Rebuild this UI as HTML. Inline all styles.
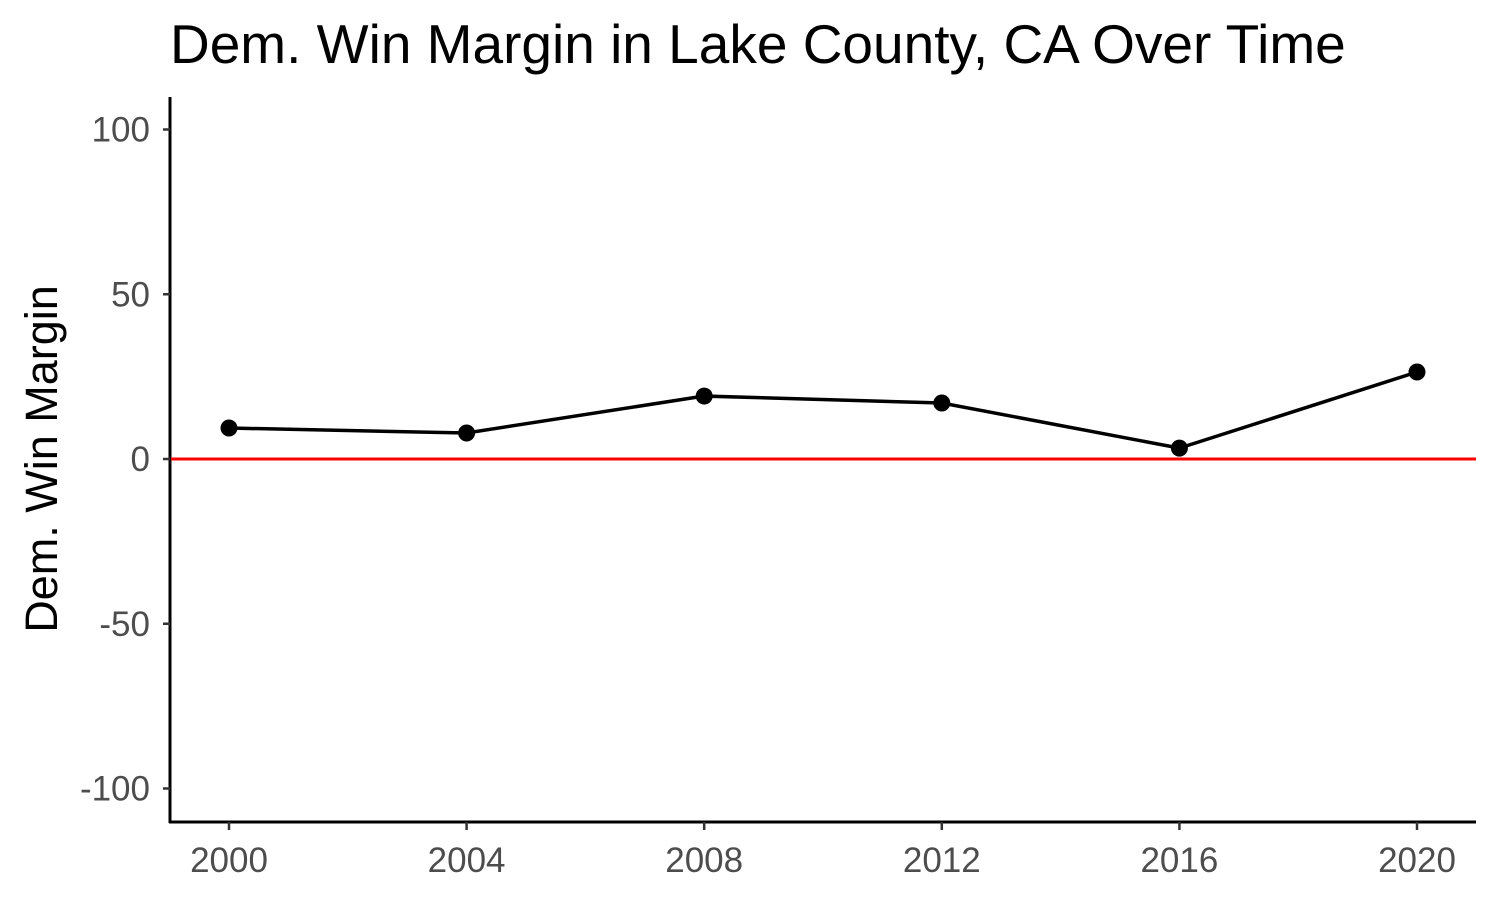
<!DOCTYPE html>
<html><head><meta charset="utf-8">
<style>
html,body{margin:0;padding:0;background:#fff;}
svg{display:block;font-family:"Liberation Sans",Arial,sans-serif;}
</style></head>
<body>
<svg id="chart" width="1500" height="900">
<text x="170" y="63" font-size="55" fill="#000">Dem. Win Margin in Lake County, CA Over Time</text>
<text transform="translate(57,459) rotate(-90)" text-anchor="middle" font-size="45" fill="#000">Dem. Win Margin</text>
<g id="axes"></g>
<g id="marks"></g>
</svg>
<script>
const years = [2000, 2004, 2008, 2012, 2016, 2020];
const margins = [9.4, 7.9, 19.1, 17.0, 3.3, 26.4];
const yTicks = [100, 50, 0, -50, -100];
const xTicks = [2000, 2004, 2008, 2012, 2016, 2020];

const NS = "http://www.w3.org/2000/svg";
const xs = v => 229 + (v - 2000) * (1417 - 229) / 20;
const ys = v => 459 - v * 3.295;
function mk(tag, attrs, parent){const e=document.createElementNS(NS,tag);for(const k in attrs)e.setAttribute(k,attrs[k]);parent.appendChild(e);return e;}
const axes=document.getElementById('axes'), marks=document.getElementById('marks');

const yl=mk('line',{x1:170,y1:97,x2:170,y2:823,stroke:'#000','stroke-width':3},axes);


const xl=mk('line',{x1:169,y1:822,x2:1476,y2:822,stroke:'#000','stroke-width':3},axes);



yTicks.forEach(t=>{
  const y=ys(t);
  const tk=mk('line',{x1:163,y1:y,x2:170,y2:y,stroke:'#333','stroke-width':2.5},axes);
  
  
  const tx=mk('text',{x:150,y:y+12,'text-anchor':'end','font-size':35,fill:'#4d4d4d'},axes);
  tx.textContent=t;
  
  
});
xTicks.forEach(t=>{
  const x=xs(t);
  const tk=mk('line',{x1:x,y1:822,x2:x,y2:830,stroke:'#333','stroke-width':2.5},axes);
  
  
  const tx=mk('text',{x:x,y:872,'text-anchor':'middle','font-size':35,fill:'#4d4d4d'},axes);
  tx.textContent=t;
  
  
});

const zl=mk('line',{x1:171,y1:ys(0),x2:1476,y2:ys(0),stroke:'#ff0000','stroke-width':3},marks);



const pts=years.map((y,i)=>xs(y)+','+ys(margins[i])).join(' ');
const pl=mk('polyline',{points:pts,fill:'none',stroke:'#000','stroke-width':3.5},marks);


years.forEach((y,i)=>{
  const c=mk('circle',{cx:xs(y),cy:ys(margins[i]),r:8.5,fill:'#000'},marks);
  
  
});
</script>
</body></html>
